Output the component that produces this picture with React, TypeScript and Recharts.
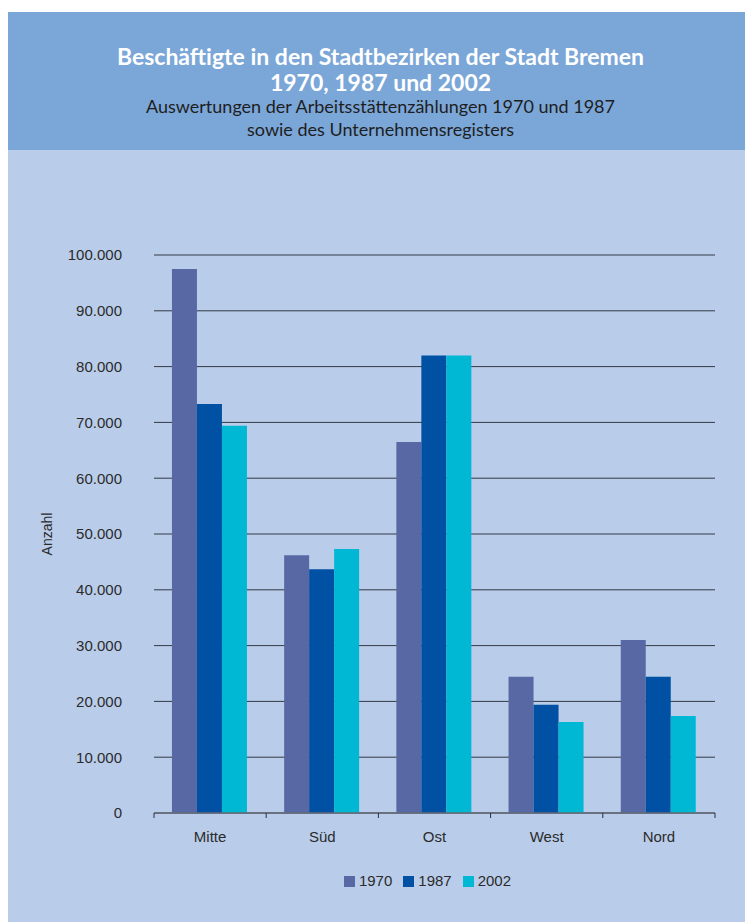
import React from "react";
import { BarChart, Bar, XAxis, YAxis, CartesianGrid, Legend } from "recharts";

const categories = ["Mitte", "Süd", "Ost", "West", "Nord"];
const series1970 = [97500, 46200, 66500, 24400, 31000];
const series1987 = [73300, 43700, 82000, 19400, 24400];
const series2002 = [69400, 47300, 82000, 16300, 17400];
const yTicks = [0, 10000, 20000, 30000, 40000, 50000, 60000, 70000, 80000, 90000, 100000];
const seriesNames = ["1970", "1987", "2002"];
const seriesColors = ["#5868a4", "#0050a4", "#00b8d4"];

const data = categories.map((c, i) => ({
  name: c,
  "1970": series1970[i],
  "1987": series1987[i],
  "2002": series2002[i],
}));

const fmt = (v: number) => String(v).replace(/\B(?=(\d{3})+(?!\d))/g, ".");

const AXIS_FONT = "'Liberation Sans', Arial, sans-serif";

const XTick = (props: any) => {
  const { x, y, payload, index, visibleTicksCount, width } = props;
  const half =
    payload && typeof payload.offset === "number" && payload.offset > 0
      ? payload.offset
      : width / (visibleTicksCount || 5) / 2;
  const isLast = index === (visibleTicksCount || 5) - 1;
  return (
    <g>
      <line x1={x - half} x2={x - half} y1={y} y2={y + 5} stroke="#2a2d38" strokeWidth={1} />
      {isLast && (
        <line x1={x + half} x2={x + half} y1={y} y2={y + 5} stroke="#2a2d38" strokeWidth={1} />
      )}
      <text
        x={x}
        y={y + 29}
        textAnchor="middle"
        fontFamily={AXIS_FONT}
        fontSize={15}
        fill="#2b2b2b"
      >
        {payload.value}
      </text>
    </g>
  );
};

const LegendContent = () => (
  <div
    style={{
      display: "flex",
      justifyContent: "center",
      alignItems: "center",
      fontFamily: AXIS_FONT,
      fontSize: 15,
      color: "#2b2b2b",
      lineHeight: "18px",
    }}
  >
    {seriesNames.map((n, i) => (
      <div key={n} style={{ display: "flex", alignItems: "center", marginRight: i < 2 ? 11 : 0 }}>
        <span
          style={{
            display: "inline-block",
            width: 11,
            height: 11,
            background: seriesColors[i],
            marginRight: 4,
          }}
        />
        <span>{n}</span>
      </div>
    ))}
  </div>
);

export default function App() {
  return (
    <div
      style={{
        position: "relative",
        width: 745,
        height: 910,
        marginTop: 4,
        background: "#b9cdea",
      }}
    >
      <div
        style={{
          position: "absolute",
          left: 0,
          top: 0,
          width: 745,
          height: 138,
          background: "#7ba6d8",
        }}
      />
      <div
        style={{
          position: "absolute",
          left: 0,
          top: 31,
          width: 745,
          textAlign: "center",
          fontFamily: "Lato, 'Open Sans', sans-serif",
          color: "#ffffff",
          fontWeight: 700,
          fontSize: 23,
          lineHeight: "26px",
        }}
      >
        <div>Beschäftigte in den Stadtbezirken der Stadt Bremen</div>
        <div>1970, 1987 und 2002</div>
      </div>
      <div
        style={{
          position: "absolute",
          left: 0,
          top: 83,
          width: 745,
          textAlign: "center",
          fontFamily: "Lato, 'Open Sans', sans-serif",
          color: "#1e1e1e",
          fontSize: 18,
          lineHeight: "23px",
        }}
      >
        <div>Auswertungen der Arbeitsstättenzählungen 1970 und 1987</div>
        <div>sowie des Unternehmensregisters</div>
      </div>
      <div style={{ position: "absolute", left: 0, top: 0 }}>
        <BarChart
          width={745}
          height={910}
          data={data}
          margin={{ top: 243, right: 38, left: 0, bottom: 79 }}
          barCategoryGap="16%"
          barGap={0}
        >
          <CartesianGrid vertical={false} stroke="#343846" strokeWidth={1} />
          <XAxis
            dataKey="name"
            height={30}
            axisLine={{ stroke: "#666b78", strokeWidth: 1.5 }}
            tickLine={false}
            tickSize={0}
            tickMargin={0}
            interval={0}
            tick={<XTick />}
          />
          <YAxis
            width={146}
            domain={[0, 100000]}
            ticks={yTicks}
            axisLine={false}
            tickLine={false}
            tickSize={0}
            tickMargin={32}
            tickFormatter={fmt}
            tick={{ fontFamily: AXIS_FONT, fontSize: 15, fill: "#2b2b2b" }}
            label={{
              content: (p: any) => {
                const vb = p.viewBox || {};
                const cx = 39;
                const cy = vb.y + vb.height / 2;
                return (
                  <text
                    x={cx}
                    y={cy}
                    transform={`rotate(-90 ${cx} ${cy})`}
                    textAnchor="middle"
                    dominantBaseline="central"
                    fontFamily={AXIS_FONT}
                    fontSize={14}
                    fill="#2b2b2b"
                  >
                    Anzahl
                  </text>
                );
              },
            }}
          />
          <Legend
            layout="horizontal"
            verticalAlign="middle"
            align="center"
            content={<LegendContent />}
            wrapperStyle={{ top: 860, left: 132, width: 575, bottom: "auto" }}
          />
          {seriesNames.map((n, i) => (
            <Bar key={n} dataKey={n} fill={seriesColors[i]} isAnimationActive={false} />
          ))}
        </BarChart>
      </div>
    </div>
  );
}
